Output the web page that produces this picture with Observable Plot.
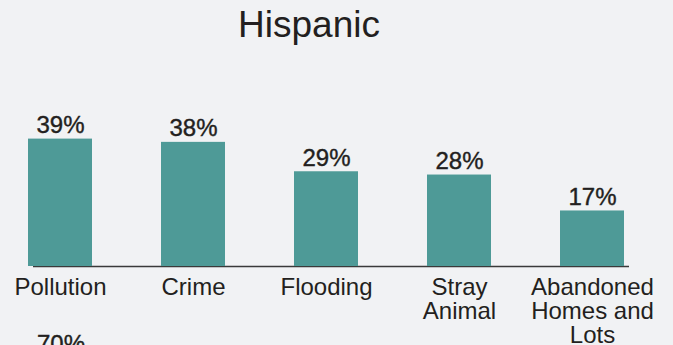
<!DOCTYPE html>
<html>
<head>
<meta charset="utf-8">
<script src="https://cdn.jsdelivr.net/npm/d3@7"></script>
<script src="https://cdn.jsdelivr.net/npm/@observablehq/plot@0.6"></script>
<style>
  html, body { margin: 0; padding: 0; background: #f1f2f4; }
  #wrap { position: relative; width: 673px; height: 345px; overflow: hidden; background: #f1f2f4;
          font-family: "Liberation Sans", Arial, Helvetica, sans-serif; color: #231f20; }
  #title { position: absolute; left: 0; top: 6px; width: 618px; text-align: center;
           font-size: 37px; line-height: 37px; }
  #next { position: absolute; left: 37px; top: 332px; font-size: 24px; line-height: 24px;
          -webkit-text-stroke: 0.4px #231f20; }
  #chart { position: absolute; left: 0; top: 0; }
</style>
</head>
<body>
<div id="wrap">
  <div id="chart"></div>
  <div id="title">Hispanic</div>
  <div id="next">70%</div>
</div>
<script>
const categories = ["Pollution", "Crime", "Flooding", "Stray Animal", "Abandoned Homes and Lots"];
const tickLabels = ["Pollution", "Crime", "Flooding", "Stray\nAnimal", "Abandoned\nHomes and\nLots"];
const values = [39, 38, 29, 28, 17];

const data = categories.map((c, i) => ({category: c, value: values[i], label: values[i] + "%"}));
const labelOf = new Map(categories.map((c, i) => [c, tickLabels[i]]));

const chart = Plot.plot({
  width: 673,
  height: 345,
  marginLeft: 28,
  marginRight: 49,
  marginTop: 70,
  marginBottom: 79,
  style: {background: "transparent", fontFamily: "Liberation Sans, Arial, sans-serif", color: "#231f20"},
  x: {domain: categories, paddingInner: 0.52, paddingOuter: 0, align: 0.5},
  y: {domain: [0, 60], axis: null},
  marks: [
    Plot.ruleY([0], {stroke: "#3a3a3a", strokeWidth: 1.5, dx: 5}),
    Plot.barY(data, {x: "category", y: "value", fill: "#4e9a97"}),
    Plot.text(data, {x: "category", y: "value", text: "label", lineAnchor: "bottom", dy: -6,
                     fontSize: 24, fill: "#231f20", stroke: "#231f20", strokeWidth: 0.4}),
    Plot.axisX({tickSize: 0, tickPadding: 11, fontSize: 24, lineHeight: 1.0, label: null,
                tickFormat: d => labelOf.get(d), fill: "#231f20"})
  ]
});
document.getElementById("chart").appendChild(chart);
</script>
</body>
</html>
